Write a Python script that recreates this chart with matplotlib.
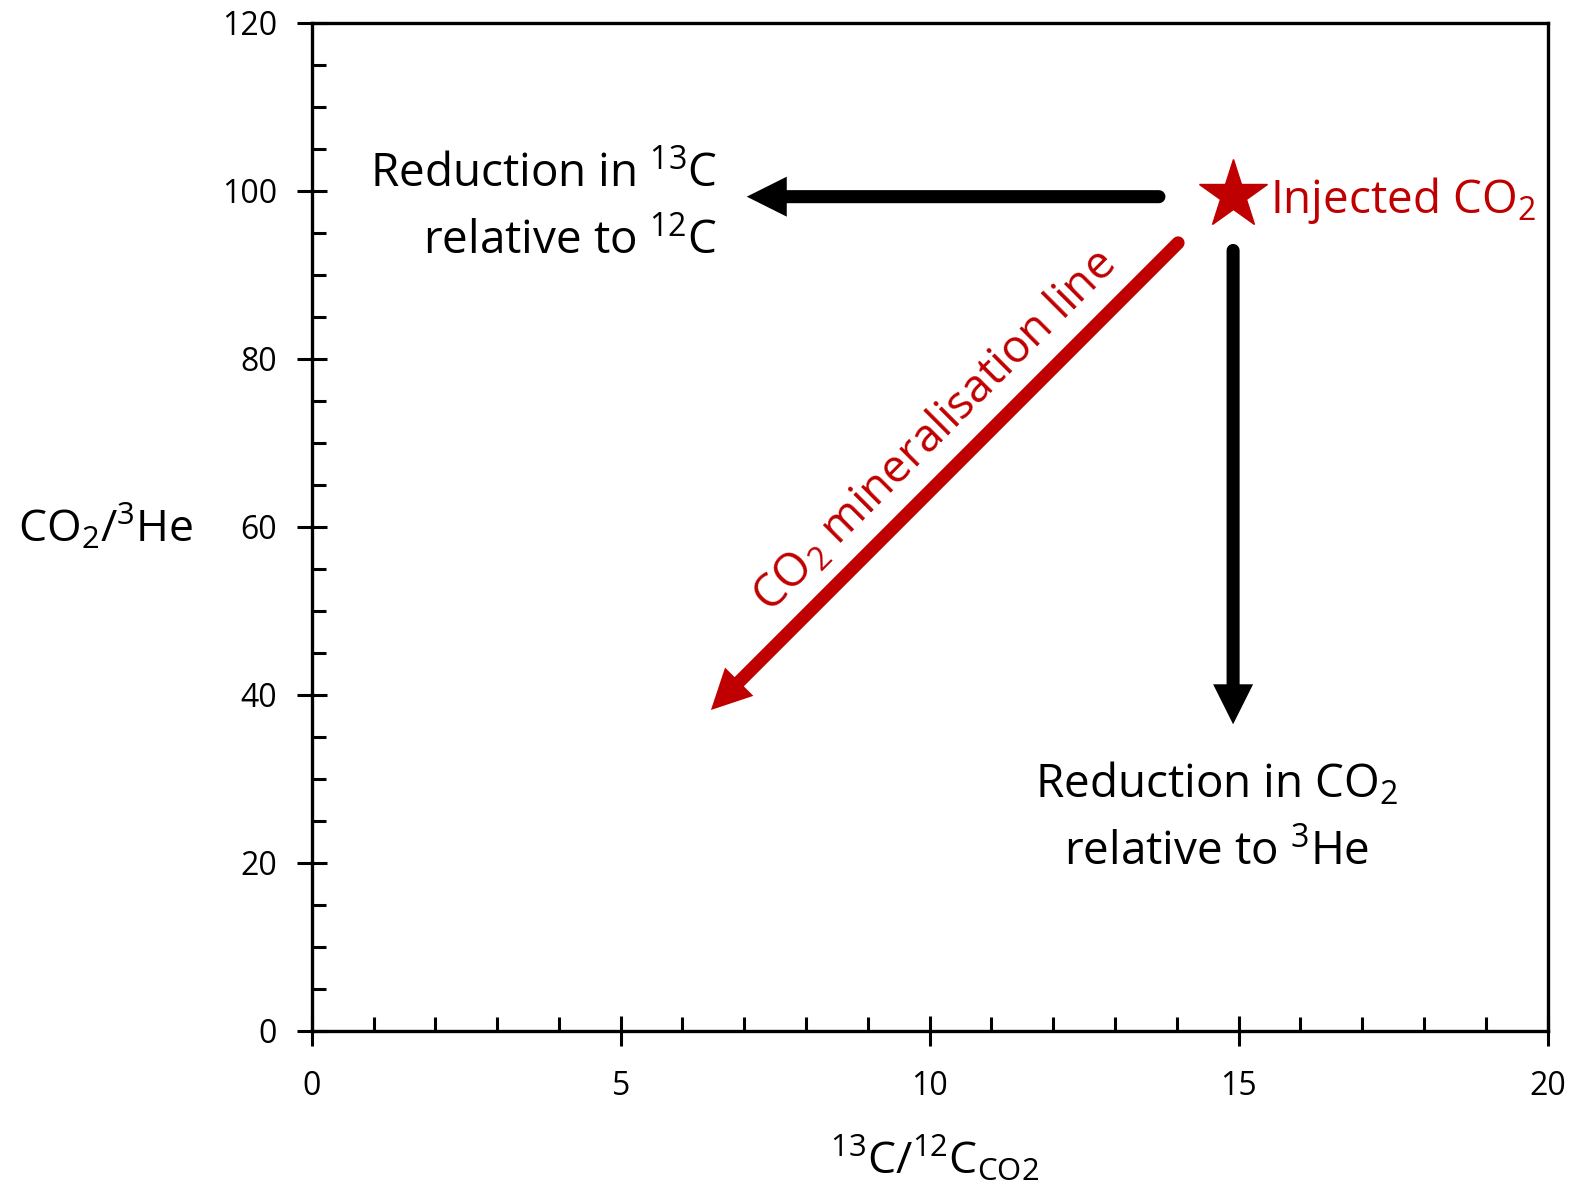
import matplotlib

matplotlib.use("Agg")
import matplotlib.pyplot as plt
from matplotlib.ticker import MultipleLocator

plt.rcParams["font.family"] = ["Open Sans", "DejaVu Sans"]
plt.rcParams["mathtext.fontset"] = "custom"
plt.rcParams["mathtext.rm"] = "Open Sans"
plt.rcParams["mathtext.it"] = "Open Sans:italic"
plt.rcParams["mathtext.default"] = "regular"

RED = "#C00000"

# injected CO2 composition (star)
injected_x = [14.91]
injected_y = [99.5]

# process arrows: start (x, y) -> tip (x, y)
c13_start, c13_tip = (13.71, 99.3), (7.04, 99.3)
co2_start, co2_tip = (14.91, 92.9), (14.91, 36.5)
mineral_start, mineral_tip = (14.02, 93.8), (6.46, 38.2)

x_limits = (0, 20)
y_limits = (0, 120)


def draw_arrow(ax, start, tip, color):
    # shaft with round tail, stopped short of the tip
    ax.annotate("", xy=tip, xytext=start,
                arrowprops=dict(arrowstyle="-", lw=9.4, color=color, shrinkA=0, shrinkB=14,
                                capstyle="round"))
    # filled triangular head
    ax.annotate("", xy=tip, xytext=start,
                arrowprops=dict(arrowstyle="-|>,head_length=28.8,head_width=14.4", mutation_scale=1,
                                lw=0, color=color, shrinkA=0, shrinkB=0))


fig = plt.figure(figsize=(15.72, 11.85), dpi=100)
ax = fig.add_axes([0.1983, 0.1300, 0.7862, 0.8508])

ax.set_xlim(*x_limits)
ax.set_ylim(*y_limits)
ax.xaxis.set_major_locator(MultipleLocator(5))
ax.xaxis.set_minor_locator(MultipleLocator(1))
ax.yaxis.set_major_locator(MultipleLocator(20))
ax.yaxis.set_minor_locator(MultipleLocator(5))
ax.tick_params(which="major", direction="inout", length=22, width=2.2, labelsize=23, pad=14)
ax.tick_params(which="minor", direction="in", length=10, width=2.2)
ax.tick_params(axis="x", which="major", pad=17)
for side in ax.spines.values():
    side.set_linewidth(2.4)

draw_arrow(ax, c13_start, c13_tip, "black")
draw_arrow(ax, co2_start, co2_tip, "black")
draw_arrow(ax, mineral_start, mineral_tip, RED)

ax.plot(injected_x, injected_y, marker="*", markersize=52, color=RED, linestyle="none")

ax.text(6.56, 97.9, "Reduction in $^{13}$C\nrelative to $^{12}$C", ha="right", va="center",
        multialignment="right", fontsize=33, linespacing=1.6)
ax.text(15.5, 98.9, "Injected CO$_2$", ha="left", va="center", fontsize=33, color=RED)
ax.text(14.65, 25.3, "Reduction in CO$_2$\nrelative to $^{3}$He", ha="center", va="center",
        multialignment="center", fontsize=33, linespacing=1.62)
ax.text(10.09, 71.3, "CO$_2$ mineralisation line", ha="center", va="center", rotation=45,
        rotation_mode="anchor", fontsize=33, color=RED)

ax.set_ylabel("CO$_2$/$^{3}$He", fontsize=32, rotation=0)
ax.yaxis.set_label_coords(-0.167, 0.499)
ax.set_xlabel("$^{13}$C/$^{12}$C$_{CO2}$", fontsize=32)
ax.xaxis.set_label_coords(0.504, -0.128)
ax.yaxis.label.set_va("center")
ax.yaxis.label.set_ha("center")
ax.xaxis.label.set_va("center")

fig.savefig("out.png", dpi=100)
